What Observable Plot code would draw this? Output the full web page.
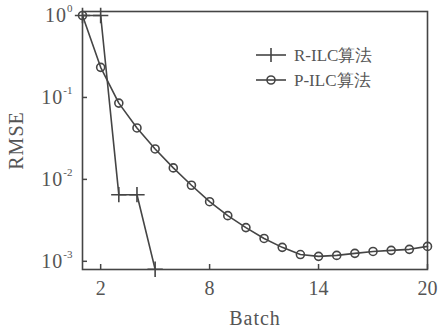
<!DOCTYPE html>
<html><head><meta charset="utf-8">
<script src="https://cdn.jsdelivr.net/npm/d3@7"></script>
<script src="https://cdn.jsdelivr.net/npm/@observablehq/plot@0.6"></script>
<style>
body{margin:0;background:#fff;}
#chart{position:relative;width:438px;height:328px;}
</style>
</head><body><div id="chart"></div>
<script>
const batches = [1,2,3,4,5,6,7,8,9,10,11,12,13,14,15,16,17,18,19,20];
const rBatches = [1,2,3,4,5];
const rValues = [1.0, 1.0, 0.0065, 0.0065, 0.0008];
const pValues = [1.0, 0.233, 0.0853, 0.0424, 0.0235, 0.0138, 0.00848, 0.00534, 0.00361, 0.00258, 0.0019, 0.00148, 0.00121, 0.00115, 0.00118, 0.00125, 0.00132, 0.00136, 0.0014, 0.00152];
const seriesNames = ["R-ILC算法", "P-ILC算法"];
const xTicks = [2, 8, 14, 20];
const yTicks = [1, 0.1, 0.01, 0.001];
const xLabel = "Batch";
const yLabel = "RMSE";

const rData = rBatches.map((b,i)=>({batch:b, v:rValues[i]}));
const pData = batches.map((b,i)=>({batch:b, v:pValues[i]}));
const ink = "#454545";
const txt = "#555";
const serif = "'Liberation Serif', 'Times New Roman', serif";

const svg = Plot.plot({
  width: 438, height: 328,
  marginTop: 11, marginBottom: 59, marginLeft: 82, marginRight: 11,
  style: {fontFamily: serif, background: "#fff", color: txt},
  x: {domain: [1, 20], label: null},
  y: {type: "log", domain: [Math.pow(10,-3.1), Math.pow(10,0.049)], label: null},
  marks: [
    Plot.frame({stroke: ink, strokeWidth: 1.6}),
    Plot.axisX({ticks: xTicks, tickSize: -5, stroke: ink, strokeWidth: 1.5, tickFormat: () => "", label: null}),
    Plot.axisX({ticks: xTicks, tickSize: 0, tickPadding: 11, fontSize: 20, fontFamily: serif, fill: txt, tickFormat: d => String(d),
      label: xLabel, labelAnchor: "center", labelArrow: "none", labelOffset: 55}),
    Plot.axisY({ticks: yTicks, tickSize: -5, stroke: ink, strokeWidth: 1.5, tickFormat: () => "", label: null}),
    Plot.axisY({ticks: yTicks, tickSize: 0, tickPadding: 10, fontSize: 20, fontFamily: serif, fill: txt,
      tickFormat: d => "10^" + Math.round(Math.log10(d)),
      label: yLabel, labelAnchor: "center", labelArrow: "none", labelOffset: 74}),
    Plot.line(rData, {x: "batch", y: "v", stroke: ink, strokeWidth: 1.6, clip: true}),
    Plot.dot(rData, {x: "batch", y: "v", symbol: "plus", r: 5, stroke: ink, strokeWidth: 1.6}),
    Plot.line(pData, {x: "batch", y: "v", stroke: ink, strokeWidth: 1.6}),
    Plot.dot(pData, {x: "batch", y: "v", r: 4, stroke: ink, strokeWidth: 1.6, fill: "none"})
  ]
});

// superscript formatting of y tick labels
d3.select(svg).selectAll("text").each(function(){
  const t = this.textContent;
  if (/^10\^/.test(t) && this.childNodes.length === 1) {
    const exp = t.split("^")[1];
    const sel = d3.select(this);
    sel.text("");
    sel.append("tspan").attr("letter-spacing", 1).text("10");
    sel.append("tspan").attr("font-size", 11).attr("dy", "-0.9em").text(exp);
  }
});
d3.select(svg).selectAll("[aria-label='x-axis label'] text, [aria-label='y-axis label'] text")
  .attr("font-size", 20).attr("fill", txt).attr("font-family", serif).attr("letter-spacing", 1);

// legend
const lg = d3.select(svg).append("g").attr("font-family", serif).attr("text-anchor", "start");
const rows = [{name: seriesNames[0], sym: "plus", y: 55}, {name: seriesNames[1], sym: "circle", y: 80}];
rows.forEach(r => {
  lg.append("line").attr("x1", 256).attr("x2", 286).attr("y1", r.y).attr("y2", r.y).attr("stroke", ink).attr("stroke-width", 1.6);
  if (r.sym === "plus") {
    lg.append("line").attr("x1", 271).attr("x2", 271).attr("y1", r.y-7).attr("y2", r.y+7).attr("stroke", ink).attr("stroke-width", 1.6);
  } else {
    lg.append("circle").attr("cx", 271).attr("cy", r.y).attr("r", 4).attr("fill", "none").attr("stroke", ink).attr("stroke-width", 1.6);
  }
  lg.append("text").attr("x", 294).attr("y", r.y).attr("dy", "0.35em").attr("font-size", 17).attr("fill", txt)
    .attr("text-anchor", "start").text(r.name);
});
document.getElementById("chart").appendChild(svg);
</script>
</body></html>
